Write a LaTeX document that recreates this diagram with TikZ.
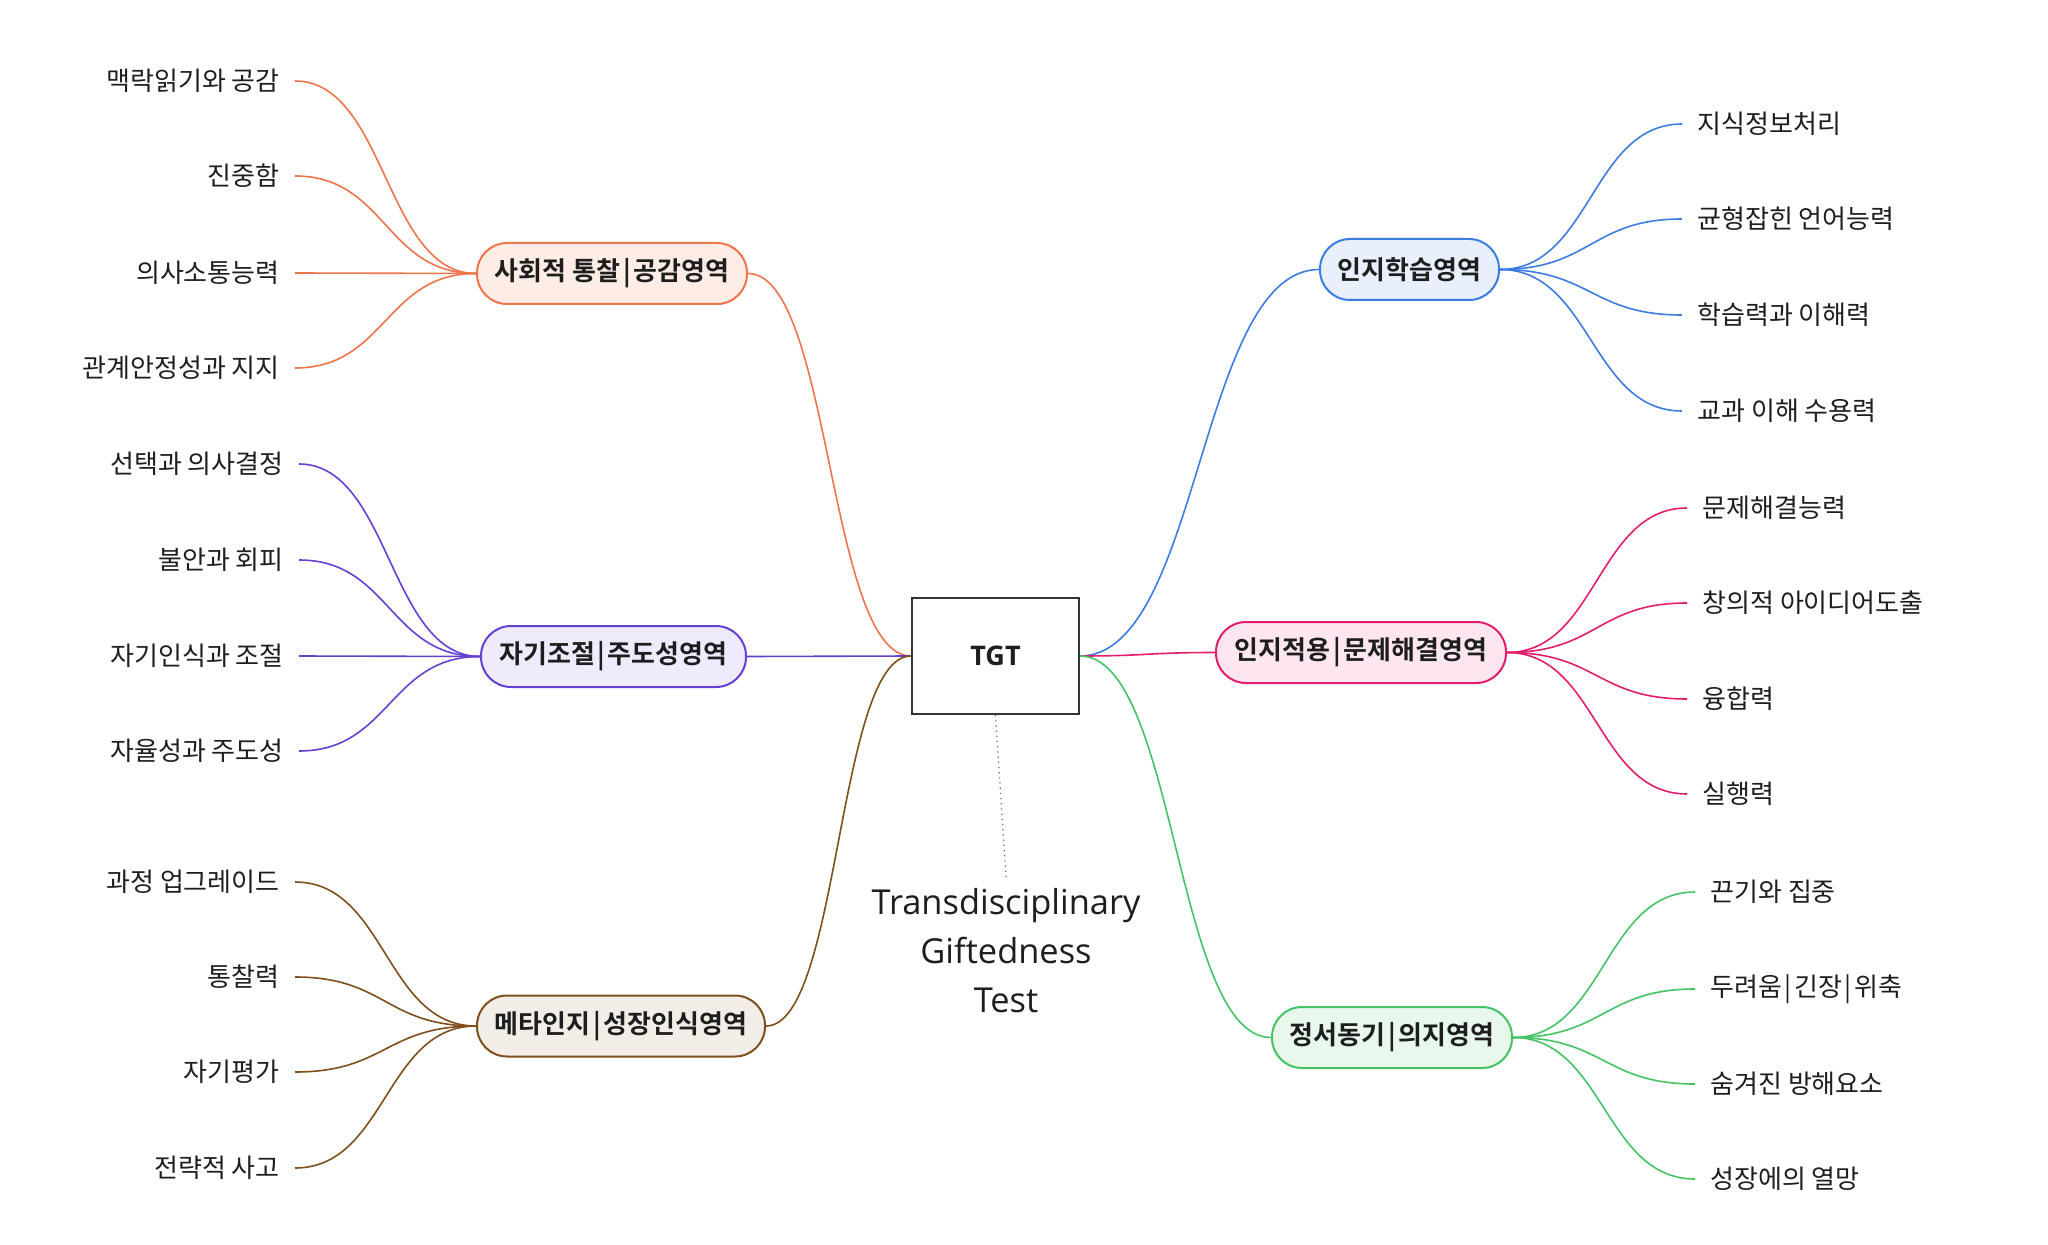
\documentclass[tikz,border=0pt]{standalone}
\usepackage{fontspec}
\setmainfont{Noto Sans CJK KR}[BoldFont={Noto Sans CJK KR Bold}]
\newfontfamily\os{Open Sans}
\definecolor{cSoc}{RGB}{238,117,75}
\definecolor{fSoc}{RGB}{253,237,230}
\definecolor{cSelf}{RGB}{102,64,210}
\definecolor{fSelf}{RGB}{239,234,252}
\definecolor{cMeta}{RGB}{128,80,28}
\definecolor{fMeta}{RGB}{243,237,231}
\definecolor{cLrn}{RGB}{60,125,225}
\definecolor{fLrn}{RGB}{232,240,253}
\definecolor{cApp}{RGB}{228,30,110}
\definecolor{fApp}{RGB}{253,230,240}
\definecolor{cEmo}{RGB}{70,195,100}
\definecolor{fEmo}{RGB}{232,248,236}
\definecolor{txt}{RGB}{30,30,30}
\newcommand{\vb}{\kern1.3pt|\kern1.3pt}
\tikzset{
  leaf/.style={font=\fontsize{13}{15}\selectfont, inner xsep=7.5pt, inner ysep=1pt, text=txt},
  lleaf/.style={leaf, anchor=east},
  rleaf/.style={leaf, anchor=west},
  branch/.style={font=\bfseries\fontsize{13}{15}\selectfont, rounded corners=15pt, minimum height=30.5pt, inner xsep=2pt, line width=1pt, text=txt},
  con/.style={line width=0.8pt},
}
\begin{document}
\begin{tikzpicture}[x=0.5pt,y=-0.5pt]
\useasboundingbox[fill=white] (0,0) rectangle (2048,1245);

% centre
\node[draw=black!80, line width=1pt, fill=white, minimum width=83.5pt, minimum height=58pt, font=\os\bfseries\fontsize{13.5}{16}\selectfont, text=txt] (tgt) at (995.5,656) {TGT};
\coordinate (note) at (1006,877);
\draw[black!60, dotted, line width=0.6pt] (tgt.south) -- (note);
\node[font=\os\fontsize{17.2}{24.5}\selectfont, align=center, text=txt, anchor=north] (title) at ([yshift=-2pt]note) {Transdisciplinary\\Giftedness\\Test};

% branches
\node[branch, draw=cSoc, fill=fSoc, minimum width=135pt] (soc) at (612,273.5) {사회적 통찰\vb 공감영역};
\node[branch, draw=cSelf, fill=fSelf, minimum width=132.5pt] (slf) at (613.5,656.5) {자기조절\vb 주도성영역};
\node[branch, draw=cMeta, fill=fMeta, minimum width=144pt] (met) at (621,1026) {메타인지\vb 성장인식영역};
\node[branch, draw=cLrn, fill=fLrn, minimum width=89.5pt] (lrn) at (1409.5,269.5) {인지학습영역};
\node[branch, draw=cApp, fill=fApp, minimum width=145pt] (app) at (1361,652.5) {인지적용\vb 문제해결영역};
\node[branch, draw=cEmo, fill=fEmo, minimum width=120pt] (emo) at (1392,1037.5) {정서동기\vb 의지영역};

% left leaves
\node[lleaf] (s1) at (295,81) {맥락읽기와 공감};
\node[lleaf] (s2) at (295,176) {진중함};
\node[lleaf] (s3) at (295,273) {의사소통능력};
\node[lleaf] (s4) at (295,368) {관계안정성과 지지};
\node[lleaf] (r1) at (299,464) {선택과 의사결정};
\node[lleaf] (r2) at (299,560) {불안과 회피};
\node[lleaf] (r3) at (299,656) {자기인식과 조절};
\node[lleaf] (r4) at (299,751) {자율성과 주도성};
\node[lleaf] (m1) at (295,882) {과정 업그레이드};
\node[lleaf] (m2) at (295,977) {통찰력};
\node[lleaf] (m3) at (295,1072) {자기평가};
\node[lleaf] (m4) at (295,1168) {전략적 사고};
% right leaves
\node[rleaf] (l1) at (1682,124) {지식정보처리};
\node[rleaf] (l2) at (1682,219) {균형잡힌 언어능력};
\node[rleaf] (l3) at (1682,315) {학습력과 이해력};
\node[rleaf] (l4) at (1682,411) {교과 이해 수용력};
\node[rleaf] (a1) at (1687,508) {문제해결능력};
\node[rleaf] (a2) at (1687,603) {창의적 아이디어도출};
\node[rleaf] (a3) at (1687,699) {융합력};
\node[rleaf] (a4) at (1687,794) {실행력};
\node[rleaf] (e1) at (1695,892) {끈기와 집중};
\node[rleaf] (e2) at (1695,989) {두려움\vb 긴장\vb 위축};
\node[rleaf] (e3) at (1695,1084) {숨겨진 방해요소};
\node[rleaf] (e4) at (1695,1179) {성장에의 열망};

% leaf connectors
\foreach \n in {s1,s2,s3,s4}
  \draw[con, cSoc] (\n.east) .. controls +(91,0) and +(-91,0) .. (soc.west);
\foreach \n in {r1,r2,r3,r4}
  \draw[con, cSelf] (\n.east) .. controls +(91,0) and +(-91,0) .. (slf.west);
\foreach \n in {m1,m2,m3,m4}
  \draw[con, cMeta] (\n.east) .. controls +(91,0) and +(-91,0) .. (met.west);
\foreach \n in {l1,l2,l3,l4}
  \draw[con, cLrn] (\n.west) .. controls +(-91,0) and +(91,0) .. (lrn.east);
\foreach \n in {a1,a2,a3,a4}
  \draw[con, cApp] (\n.west) .. controls +(-90,0) and +(90,0) .. (app.east);
\foreach \n in {e1,e2,e3,e4}
  \draw[con, cEmo] (\n.west) .. controls +(-91,0) and +(91,0) .. (emo.east);

% trunk connectors
\draw[con, cSoc] (soc.east) .. controls +(83,0) and +(-83,0) .. (tgt.west);
\draw[con, cSelf] (slf.east) -- (tgt.west);
\draw[con, cMeta] (met.east) .. controls +(74,0) and +(-74,0) .. (tgt.west);
\draw[con, cLrn] (tgt.east) .. controls +(120,0) and +(-120,0) .. (lrn.west);
\draw[con, cApp] (tgt.east) .. controls +(68,0) and +(-68,0) .. (app.west);
\draw[con, cEmo] (tgt.east) .. controls +(96,0) and +(-96,0) .. (emo.west);
\end{tikzpicture}
\end{document}
